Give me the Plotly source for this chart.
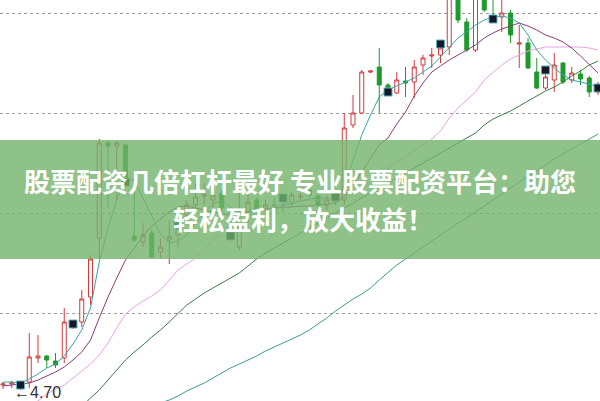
import plotly.graph_objects as go

# ---- data (prices) ----
idx = list(range(69))
opens = [4.75, 4.76, 4.74, 4.78, 5.02, 5.04, 4.99, 5.02, 5.33, 5.38,
         5.63, 6.22, 7.17, 7.14, 7.15, 6.24, 6.18, 6.27, 6.08, 6.20,
         6.25, 6.45, 6.55, 6.64, 6.60, 6.67, 6.27, 6.13, 6.48, 6.60,
         6.50, 6.55, 6.63, 6.58, 6.63, 6.70, 6.64, 6.55, 6.65, 6.60,
         7.35, 7.47, 7.88, 7.93, 7.75, 7.67, 7.79, 7.78, 7.95, 8.04,
         8.05, 8.13, 8.68, 8.38, 8.10, 8.63, 8.43, 8.43, 8.47, 8.16,
         8.17, 7.88, 7.72, 7.80, 7.97, 7.80, 7.86, 7.82, 7.68]
highs = [4.78, 4.79, 4.78, 5.27, 5.25, 5.05, 5.07, 5.52, 5.40, 5.70,
         6.05, 7.21, 7.19, 7.19, 7.17, 6.75, 6.37, 6.30, 6.22, 6.40,
         6.40, 6.60, 6.77, 6.77, 6.70, 6.70, 6.30, 6.68, 6.70, 6.63,
         6.60, 6.62, 6.65, 6.68, 6.67, 6.75, 6.67, 6.65, 6.68, 7.47,
         7.65, 7.90, 7.90, 8.12, 7.77, 7.88, 7.93, 8.00, 8.05, 8.12,
         8.17, 8.75, 8.72, 8.42, 8.70, 8.68, 8.62, 8.62, 8.50, 8.35,
         8.22, 8.02, 7.90, 8.07, 7.98, 7.93, 7.90, 7.84, 7.78]
lows = [4.71, 4.72, 4.70, 4.72, 4.97, 4.92, 4.92, 4.97, 5.31, 5.33,
        5.55, 6.02, 6.52, 6.60, 6.76, 6.18, 6.13, 6.02, 6.02, 5.96,
        6.13, 6.38, 6.48, 6.55, 6.30, 6.42, 6.20, 6.10, 6.37, 6.43,
        6.45, 6.48, 6.48, 6.52, 6.60, 6.63, 6.48, 6.50, 6.55, 6.55,
        7.32, 7.46, 7.87, 7.47, 7.65, 7.66, 7.63, 7.62, 7.85, 7.92,
        7.97, 8.05, 8.37, 8.08, 8.08, 8.48, 8.37, 8.28, 8.17, 7.92,
        7.91, 7.71, 7.70, 7.68, 7.76, 7.77, 7.75, 7.63, 7.65]
closes = [4.76, 4.77, 4.76, 5.03, 5.04, 5.00, 4.95, 5.38, 5.38, 5.61,
          6.01, 7.17, 7.14, 7.17, 6.80, 6.20, 6.25, 6.03, 6.13, 6.23,
          6.32, 6.55, 6.63, 6.65, 6.65, 6.52, 6.22, 6.33, 6.58, 6.48,
          6.55, 6.52, 6.60, 6.65, 6.64, 6.65, 6.55, 6.60, 6.60, 7.32,
          7.47, 7.88, 7.89, 7.75, 7.68, 7.80, 7.77, 7.93, 8.02, 8.05,
          8.12, 8.65, 8.40, 8.10, 8.65, 8.50, 8.40, 8.47, 8.25, 8.17,
          7.92, 7.72, 7.83, 7.95, 7.78, 7.87, 7.81, 7.68, 7.74]

ma5 = [4.78, 4.78, 4.77, 4.81, 4.86, 4.92, 4.96, 5.04, 5.16, 5.30,
       5.52, 5.98, 6.32, 6.60, 6.80, 6.80, 6.62, 6.44, 6.26, 6.17,
       6.19, 6.25, 6.37, 6.48, 6.56, 6.60, 6.53, 6.47, 6.46, 6.43,
       6.43, 6.49, 6.55, 6.56, 6.59, 6.61, 6.62, 6.62, 6.61, 6.74,
       7.00, 7.25, 7.45, 7.63, 7.70, 7.74, 7.78, 7.82, 7.88, 7.94,
       8.03, 8.12, 8.22, 8.28, 8.35, 8.40, 8.43, 8.44, 8.42, 8.37,
       8.25, 8.10, 8.00, 7.92, 7.85, 7.80, 7.78, 7.76, 7.73]
ma10 = [4.74, 4.75, 4.76, 4.77, 4.80, 4.84, 4.88, 4.93, 5.00, 5.08,
        5.20, 5.42, 5.63, 5.82, 6.00, 6.12, 6.24, 6.34, 6.41, 6.48,
        6.53, 6.54, 6.52, 6.50, 6.48, 6.46, 6.45, 6.46, 6.48, 6.50,
        6.51, 6.52, 6.53, 6.53, 6.54, 6.54, 6.55, 6.56, 6.57, 6.64,
        6.75, 6.88, 7.02, 7.15, 7.22, 7.36, 7.48, 7.64, 7.77, 7.88,
        7.94, 8.00, 8.05, 8.10, 8.15, 8.22, 8.27, 8.31, 8.34, 8.37,
        8.34, 8.30, 8.25, 8.22, 8.18, 8.12, 8.04, 7.96, 7.87]
ma20 = [4.48, 4.51, 4.54, 4.56, 4.59, 4.66, 4.71, 4.75, 4.82, 4.89,
        4.96, 5.05, 5.17, 5.32, 5.46, 5.53, 5.59, 5.64, 5.70, 5.80,
        5.90, 5.96, 6.02, 6.10, 6.20, 6.28, 6.35, 6.42, 6.47, 6.50,
        6.52, 6.54, 6.56, 6.58, 6.59, 6.60, 6.60, 6.60, 6.60, 6.62,
        6.66, 6.71, 6.77, 6.84, 6.91, 6.98, 7.04, 7.10, 7.15, 7.21,
        7.29, 7.42, 7.52, 7.60, 7.68, 7.80, 7.88, 7.95, 8.01, 8.05,
        8.09, 8.11, 8.13, 8.13, 8.13, 8.13, 8.13, 8.12, 8.10]
ma60 = [None] * 8 + [
        4.45, 4.54, 4.62, 4.70, 4.80, 4.90, 5.00, 5.08, 5.15, 5.23,
        5.30, 5.38, 5.47, 5.55, 5.61, 5.67, 5.72, 5.77, 5.82, 5.87,
        5.94, 6.01, 6.07, 6.12, 6.17, 6.22, 6.27, 6.32, 6.37, 6.42,
        6.47, 6.52, 6.57, 6.62, 6.67, 6.72, 6.77, 6.82, 6.87, 6.92,
        6.97, 7.02, 7.07, 7.12, 7.17, 7.22, 7.27, 7.35, 7.41, 7.45,
        7.49, 7.54, 7.59, 7.64, 7.69, 7.73, 7.78, 7.84, 7.89, 7.95,
        7.99]
ma120 = [None] * 17 + [
        4.53, 4.57, 4.60, 4.64, 4.69, 4.73, 4.77, 4.82, 4.87, 4.92,
        4.96, 5.00, 5.04, 5.09, 5.13, 5.17, 5.21, 5.25, 5.30, 5.36,
        5.42, 5.49, 5.55, 5.61, 5.66, 5.72, 5.80, 5.88, 5.95, 6.01,
        6.07, 6.13, 6.19, 6.25, 6.31, 6.37, 6.42, 6.48, 6.54, 6.60,
        6.66, 6.72, 6.78, 6.84, 6.89, 6.95, 7.01, 7.06, 7.11, 7.16,
        7.21, 7.26]

signal_idx = [2, 8, 14, 20, 26, 32, 38, 44, 50, 56, 62, 68]
signal_val = [4.75, 5.36, 6.78, 6.35, 6.24, 6.62, 6.63, 7.68, 8.16, 8.41, 7.90, 7.72]

grid_vals = [5.47, 6.47, 7.47, 8.47]
low_label = "←4.70"
banner_line1 = "股票配资几倍杠杆最好 专业股票配资平台：助您"
banner_line2 = "轻松盈利，放大收益！"

RED = "#d5393b"
GREEN = "#1e9a2c"

fig = go.Figure()
fig.add_trace(go.Candlestick(
    x=idx, open=opens, high=highs, low=lows, close=closes,
    increasing=dict(line=dict(color=RED, width=1), fillcolor="white"),
    decreasing=dict(line=dict(color=GREEN, width=1), fillcolor=GREEN),
    whiskerwidth=0, showlegend=False, hoverinfo="skip"))

lines = [(ma120, "#3f9898"), (ma60, "#3b7b45"), (ma20, "#e7a3e6"),
         (ma10, "#8a3b7c"), (ma5, "#3aa3a8")]
for vals, col in lines:
    fig.add_trace(go.Scatter(x=idx, y=vals, mode="lines",
                             line=dict(color=col, width=1),
                             showlegend=False, hoverinfo="skip"))

fig.add_trace(go.Scatter(x=signal_idx, y=signal_val, mode="markers",
                         marker=dict(symbol="square", size=8, color="#14182a",
                                     line=dict(color="#5fb3b8", width=1)),
                         showlegend=False, hoverinfo="skip"))

xmin = -3 / 8.75
fig.update_layout(
    width=600, height=401,
    margin=dict(l=0, r=0, t=0, b=0),
    paper_bgcolor="white", plot_bgcolor="white",
    boxgap=0.35,
    xaxis=dict(range=[xmin, xmin + 600 / 8.75], showgrid=False, zeroline=False,
               showticklabels=False, rangeslider=dict(visible=False), fixedrange=True),
    yaxis=dict(range=[4.59, 8.60], tickvals=grid_vals, showticklabels=False,
               showgrid=True, gridcolor="#9c9c9c", griddash="dot", gridwidth=1,
               zeroline=False, fixedrange=True),
    shapes=[dict(type="rect", xref="paper", yref="paper", x0=0, x1=1,
                 y0=1 - 259 / 401, y1=1 - 140 / 401, layer="above",
                 fillcolor="rgba(115,179,107,0.8)", line=dict(width=0))],
)

fig.add_annotation(xref="paper", yref="paper", x=12 / 600, y=1 - 392 / 401,
                   text=low_label, showarrow=False, xanchor="left", yanchor="middle",
                   font=dict(size=16, color="#333333", family="Liberation Sans"))
fig.add_annotation(xref="paper", yref="paper", x=0.5, y=1 - 180 / 401,
                   text=banner_line1, showarrow=False, xanchor="center", yanchor="middle",
                   font=dict(size=26, color="white", family="Noto Sans CJK SC", weight="bold"))
fig.add_annotation(xref="paper", yref="paper", x=0.505, y=1 - 219 / 401,
                   text=banner_line2, showarrow=False, xanchor="center", yanchor="middle",
                   font=dict(size=26, color="white", family="Noto Sans CJK SC", weight="bold"))

fig.write_html("out.html", config={"displayModeBar": False},
               post_script="document.body.style.margin='0px';document.body.style.overflow='hidden';")
